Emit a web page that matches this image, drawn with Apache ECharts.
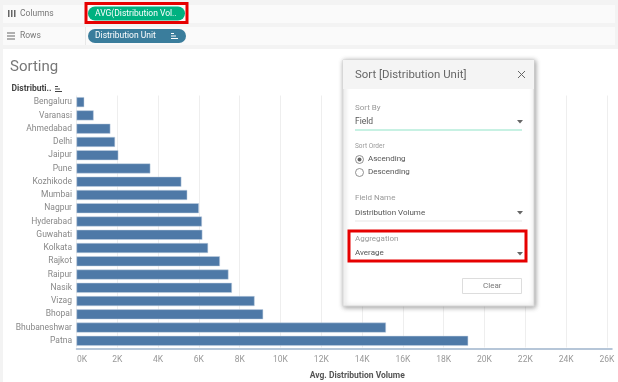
<!DOCTYPE html>
<html>
<head>
<meta charset="utf-8">
<script src="https://cdn.jsdelivr.net/npm/echarts@6/dist/echarts.min.js"></script>
<style>
html, body { margin: 0; padding: 0; background: #fff; }
#chart { width: 618px; height: 382px; }
</style>
</head>
<body>
<div id="chart"></div>
<script>
var categories = ['Bengaluru', 'Varanasi', 'Ahmedabad', 'Delhi', 'Jaipur', 'Pune', 'Kozhikode', 'Mumbai', 'Nagpur', 'Hyderabad', 'Guwahati', 'Kolkata', 'Rajkot', 'Raipur', 'Nasik', 'Vizag', 'Bhopal', 'Bhubaneshwar', 'Patna'];
var avgVolume = [380, 840, 1660, 1890, 2050, 3620, 5140, 5430, 6000, 6150, 6170, 6450, 7030, 7450, 7620, 8730, 9150, 15170, 19200];

var chart = echarts.init(document.getElementById('chart'));
var uiFont = 'Roboto';
var grey = '#777';

function label(x, y, text, size, color, weight) {
    return {
        type: 'text', x: x, y: y, z: 20,
        style: { text: text, fontFamily: uiFont, fontSize: size, fill: color, fontWeight: weight || 'normal', textVerticalAlign: 'middle' }
    };
}
function box(x, y, w, h, fill, stroke, lineWidth, r, z) {
    return {
        type: 'rect', z: z || 10,
        shape: { x: x, y: y, width: w, height: h, r: r || 0 },
        style: { fill: fill, stroke: stroke || null, lineWidth: lineWidth || 0 }
    };
}
function arrow(x, y) {
    return {
        type: 'polygon', z: 20,
        shape: { points: [[x, y], [x + 6, y], [x + 3, y + 3.5]] },
        style: { fill: '#666' }
    };
}
// little sort icon next to the shelf field names
function sortIcon(x, y, color) {
    return [0, 1, 2].map(function (i) {
        return { type: 'rect', z: 20, shape: { x: x, y: y + i * 2.5, width: 3 + i * 2, height: 1 }, style: { fill: color } };
    });
}

var elements = [
    // window gutters and shelves
    box(0, 0, 618, 49, '#f3f3f3', null, 0, 0, 1),
    box(0, 49, 3, 333, '#f3f3f3', null, 0, 0, 1),
    box(3, 5, 612, 18, '#fafafa', null, 0, 0, 2),
    box(3, 27, 612, 18, '#fafafa', null, 0, 0, 2),
    box(85, 5, 1, 18, '#e8e8e8'),
    box(85, 27, 1, 18, '#e8e8e8'),
    label(20, 13.5, 'Columns', 8.5, grey),
    label(20, 36, 'Rows', 8.5, grey),
    box(8, 10, 1.5, 7, '#666'), box(11, 10, 1.5, 7, '#666'), box(14, 10, 1.5, 7, '#666'),
    box(7, 32.5, 8, 1, '#666'), box(7, 35.5, 8, 1, '#666'), box(7, 38.5, 8, 1, '#666'),
    box(88, 6.5, 97, 14, '#00b180', null, 0, 7),
    box(86, 3.5, 101, 19, null, '#e60000', 3, 0, 15),
    label(95, 13.5, 'AVG(Distribution Vol..', 8.5, '#fff'),
    box(88, 29, 98, 14, '#3a7d9c', null, 0, 7),
    label(95, 36, 'Distribution Unit', 8.5, '#fff'),
    label(10, 67, 'Sorting', 15, '#777'),
    label(11.5, 89, 'Distributi..', 8.5, '#444', 'bold'),
    // sort dialog
    {
        type: 'rect', z: 10,
        shape: { x: 343, y: 60, width: 191, height: 246 },
        style: { fill: '#fff', stroke: '#d8d8d8', lineWidth: 1, shadowBlur: 5, shadowOffsetX: 1, shadowOffsetY: 1, shadowColor: 'rgba(0,0,0,0.4)' }
    },
    box(343, 60, 191, 29, '#f4f4f4'),
    label(355, 75, 'Sort [Distribution Unit]', 11.4, '#666'),
    { type: 'line', z: 20, shape: { x1: 518, y1: 71, x2: 525, y2: 78 }, style: { stroke: '#666', lineWidth: 1 } },
    { type: 'line', z: 20, shape: { x1: 525, y1: 71, x2: 518, y2: 78 }, style: { stroke: '#666', lineWidth: 1 } },
    label(355, 108, 'Sort By', 8, '#999'),
    label(355, 121.5, 'Field', 8.5, '#555'),
    arrow(517, 120),
    box(355, 129.5, 167, 1, '#8fe3c8'),
    label(355, 146, 'Sort Order', 6.5, '#999'),
    { type: 'circle', z: 20, shape: { cx: 359.5, cy: 159.5, r: 4 }, style: { fill: '#fff', stroke: '#777', lineWidth: 0.8 } },
    { type: 'circle', z: 20, shape: { cx: 359.5, cy: 159.5, r: 2 }, style: { fill: '#666' } },
    label(368, 159, 'Ascending', 8, '#555'),
    { type: 'circle', z: 20, shape: { cx: 359.5, cy: 172.5, r: 4 }, style: { fill: '#fff', stroke: '#777', lineWidth: 0.8 } },
    label(368, 172, 'Descending', 8, '#555'),
    label(355, 198, 'Field Name', 8, '#999'),
    label(355, 212.5, 'Distribution Volume', 8, '#555'),
    arrow(517, 211),
    box(355, 220.5, 167, 1, '#e8e8e8'),
    box(349, 231, 177, 30, null, '#e60000', 3, 0, 15),
    label(355, 239, 'Aggregation', 8, '#999'),
    label(355, 253, 'Average', 8, '#555'),
    arrow(517, 252),
    box(462.5, 278.5, 59, 15, '#fff', '#ddd', 1),
    label(483, 286, 'Clear', 8, '#777')
];
elements = elements.concat(sortIcon(55, 86, '#444'), sortIcon(171, 33, '#fff'));

chart.setOption({
    animation: false,
    backgroundColor: '#fff',
    grid: { left: 76.5, right: 6, top: 95.5, height: 252, outerBoundsMode: 'none' },
    xAxis: {
        type: 'value',
        min: 0,
        max: 26250,
        interval: 2000,
        position: 'bottom',
        offset: 1.5,
        name: 'Avg. Distribution Volume',
        nameLocation: 'middle',
        nameGap: 22,
        nameTextStyle: { fontFamily: uiFont, fontSize: 8.5, fontWeight: 'bold', color: '#555', padding: [0, 0, 0, 26] },
        axisLine: { show: true, onZero: false, lineStyle: { color: '#9fb4cc', width: 1.5 } },
        axisTick: { show: false },
        axisLabel: {
            margin: 6, fontFamily: uiFont, fontSize: 8.5, color: '#999', showMaxLabel: false,
            // the 0K label sits to the right of its gridline in the original
            formatter: function (v) { return v === 0 ? '{first|0K}' : (v / 1000) + 'K'; },
            rich: { first: { fontFamily: uiFont, fontSize: 8.5, color: '#999', padding: [0, 0, 0, 11] } }
        },
        splitLine: { show: true, showMaxLine: false, lineStyle: { color: '#eee', width: 1 } }
    },
    yAxis: {
        type: 'category',
        inverse: true,
        data: categories,
        axisLine: { show: false },
        axisTick: { show: false },
        axisLabel: { margin: 4.5, fontFamily: uiFont, fontSize: 8.5, color: '#888' }
    },
    series: [{
        type: 'bar',
        data: avgVolume,
        barWidth: 10,
        itemStyle: { color: '#4e79a7', borderColor: '#c5d3e2', borderWidth: 0.5 }
    }],
    graphic: { elements: elements }
});
</script>
</body>
</html>
